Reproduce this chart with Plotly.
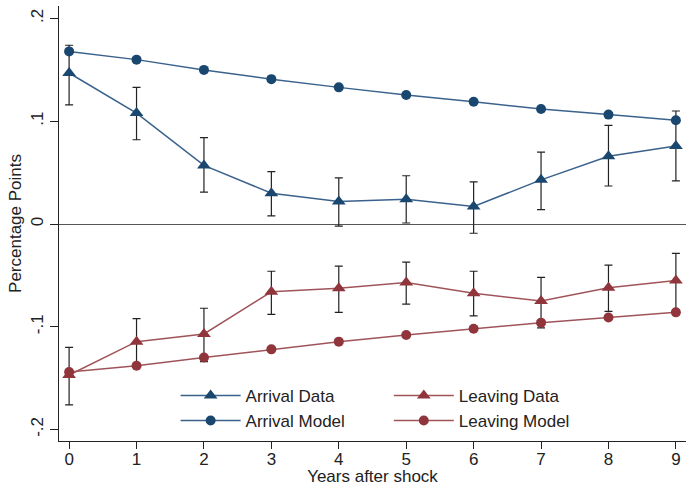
import plotly.graph_objects as go

years = [0, 1, 2, 3, 4, 5, 6, 7, 8, 9]

arrival_data = [0.147, 0.108, 0.057, 0.030, 0.022, 0.024, 0.017, 0.043, 0.066, 0.076]
arrival_hi = [0.174, 0.133, 0.084, 0.051, 0.045, 0.047, 0.041, 0.070, 0.096, 0.110]
arrival_lo = [0.116, 0.082, 0.031, 0.008, -0.002, 0.001, -0.009, 0.014, 0.037, 0.042]
arrival_model = [0.168, 0.160, 0.150, 0.141, 0.133, 0.1255, 0.119, 0.112, 0.1065, 0.101]

leaving_data = [-0.147, -0.1145, -0.107, -0.066, -0.0625, -0.057, -0.0675, -0.075, -0.062, -0.055]
leaving_hi = [-0.120, -0.092, -0.082, -0.046, -0.041, -0.037, -0.046, -0.052, -0.040, -0.0285]
leaving_lo = [-0.176, -0.138, -0.134, -0.088, -0.086, -0.078, -0.0895, -0.101, -0.085, -0.084]
leaving_model = [-0.144, -0.138, -0.130, -0.122, -0.1145, -0.108, -0.102, -0.096, -0.091, -0.086]

y_tickvals = [0.2, 0.1, 0.0, -0.1, -0.2]
y_ticktext = [".2", ".1", "0", "-.1", "-.2"]

NAVY = "#1a476f"
NAVY_LINE = "#3a628c"
MAROON = "#90353b"
MAROON_LINE = "#a0545a"
FONT = "Liberation Sans, Arial, sans-serif"

def err(vals, hi, lo):
    return dict(type="data", symmetric=False,
                array=[h - v for h, v in zip(hi, vals)],
                arrayminus=[v - l for v, l in zip(vals, lo)],
                color="#222222", thickness=1.2, width=4)

fig = go.Figure()
fig.add_trace(go.Scatter(x=years, y=arrival_data, name="Arrival Data", mode="lines+markers",
                         line=dict(color=NAVY_LINE, width=1.5),
                         marker=dict(symbol="triangle-up", size=12, color=NAVY),
                         error_y=err(arrival_data, arrival_hi, arrival_lo), legend="legend"))
fig.add_trace(go.Scatter(x=years, y=arrival_model, name="Arrival Model", mode="lines+markers",
                         line=dict(color=NAVY_LINE, width=1.5),
                         marker=dict(symbol="circle", size=10, color=NAVY), legend="legend"))
fig.add_trace(go.Scatter(x=years, y=leaving_data, name="Leaving Data", mode="lines+markers",
                         line=dict(color=MAROON_LINE, width=1.5),
                         marker=dict(symbol="triangle-up", size=12, color=MAROON),
                         error_y=err(leaving_data, leaving_hi, leaving_lo), legend="legend2"))
fig.add_trace(go.Scatter(x=years, y=leaving_model, name="Leaving Model", mode="lines+markers",
                         line=dict(color=MAROON_LINE, width=1.5),
                         marker=dict(symbol="circle", size=10, color=MAROON), legend="legend2"))

legend_common = dict(orientation="v", xanchor="left", yanchor="top", y=0.145,
                     bgcolor="rgba(0,0,0,0)", font=dict(family=FONT, size=17, color="#222"),
                     itemwidth=60, tracegroupgap=0)

fig.update_layout(
    width=687, height=486,
    margin=dict(l=59, r=1, t=6, b=45),
    paper_bgcolor="white", plot_bgcolor="white",
    font=dict(family=FONT, size=17, color="#222"),
    legend=dict(x=0.186, **legend_common),
    legend2=dict(x=0.526, **legend_common),
    xaxis=dict(range=[-0.15, 9.15], tickvals=years, ticks="outside", ticklen=7, tickcolor="#222",
               showline=True, linecolor="#222", linewidth=1.2, showgrid=False, zeroline=False,
               automargin=False, ticklabelstandoff=-5,
               tickfont=dict(size=17), title=dict(text="Years after shock", standoff=4, font=dict(size=17))),
    yaxis=dict(range=[-0.2112, 0.2122], tickvals=y_tickvals, ticktext=y_ticktext, tickangle=-90,
               ticks="outside", ticklen=8, tickcolor="#222",
               showline=True, linecolor="#222", linewidth=1.2, showgrid=False,
               zeroline=True, zerolinecolor="#555", zerolinewidth=1.2, automargin=False,
               tickfont=dict(size=17), title=dict(text="Percentage Points", standoff=2, font=dict(size=17))),
)

fig.write_html("out.html")
